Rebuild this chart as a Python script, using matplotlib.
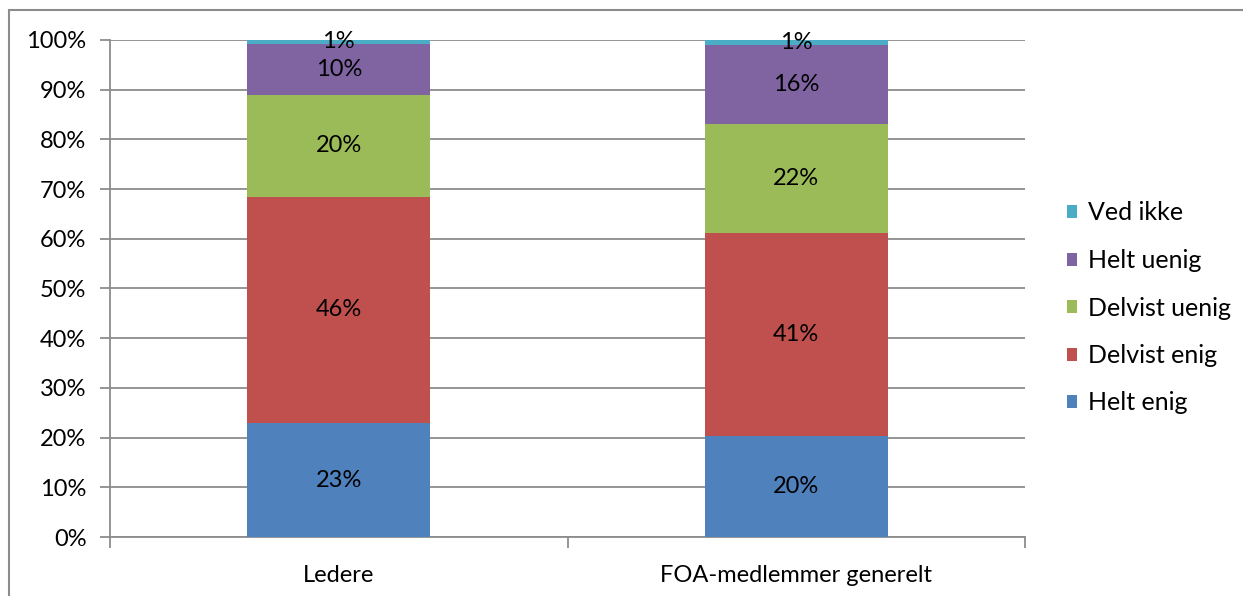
import matplotlib
matplotlib.use("Agg")
import matplotlib.pyplot as plt
from matplotlib.patches import Rectangle
import numpy as np

plt.rcParams["font.family"] = ["Lato", "DejaVu Sans"]

categories = ["Ledere", "FOA-medlemmer generelt"]
series_names = ["Helt enig", "Delvist enig", "Delvist uenig", "Helt uenig", "Ved ikke"]
helt_enig = [22.9, 20.3]
delvist_enig = [45.6, 40.9]
delvist_uenig = [20.4, 21.9]
helt_uenig = [10.3, 15.9]
ved_ikke = [0.8, 1.0]

COLORS = ["#4F81BD", "#C0504D", "#9BBB59", "#8064A2", "#4BACC6"]
GRID = "#8C8C8C"
FS = 17

fig = plt.figure(figsize=(12.43, 5.96), dpi=100)
ax = fig.add_axes([110 / 1243, 59 / 596, 915 / 1243, 497 / 596])

x = np.arange(len(categories))
bottom = np.zeros(len(categories))
handles = []
for name, vals, col in zip(series_names,
                           [helt_enig, delvist_enig, delvist_uenig, helt_uenig, ved_ikke],
                           COLORS):
    vals = np.array(vals)
    bars = ax.bar(x, vals, 0.4, bottom=bottom, color=col, label=name, zorder=3)
    handles.append(bars)
    for xi, b, v in zip(x, bottom, vals):
        ax.text(xi, b + v / 2, f"{v:.0f}%", ha="center", va="center",
                fontsize=FS, color="black", zorder=4)
    bottom += vals

ax.set_xlim(-0.5, 1.5)
ax.set_ylim(0, 100)
ax.set_yticks(np.arange(0, 101, 10))
ax.set_yticklabels([f"{v}%" for v in range(0, 101, 10)], fontsize=FS)
ax.set_xticks(x)
ax.set_xticklabels(categories, fontsize=FS)
ax.set_xticks([-0.5, 0.5, 1.5], minor=True)
ax.tick_params(axis="x", which="major", length=0, pad=20)
ax.tick_params(axis="x", which="minor", length=8, width=1.3, color=GRID, direction="out")
ax.tick_params(axis="y", length=7, width=1.3, color=GRID, pad=10)
ax.grid(axis="y", color=GRID, linewidth=1.3, zorder=0)
for s in ["top", "right"]:
    ax.spines[s].set_visible(False)
for s in ["left", "bottom"]:
    ax.spines[s].set_color(GRID)
    ax.spines[s].set_linewidth(1.3)

leg = fig.legend(handles[::-1], series_names[::-1], loc="upper left",
                 bbox_to_anchor=(1044 / 1243, 1 - 179 / 596), frameon=False,
                 fontsize=FS + 1, handlelength=0.43, handleheight=0.43,
                 handletextpad=0.45, labelspacing=0.98)

fig.patches.append(Rectangle((9 / 1243, -0.1), 1.2, 1.1 - 10 / 596,
                             transform=fig.transFigure, fill=False,
                             edgecolor="#8C8C8C", linewidth=1.5))

fig.savefig("out.png", dpi=100)
